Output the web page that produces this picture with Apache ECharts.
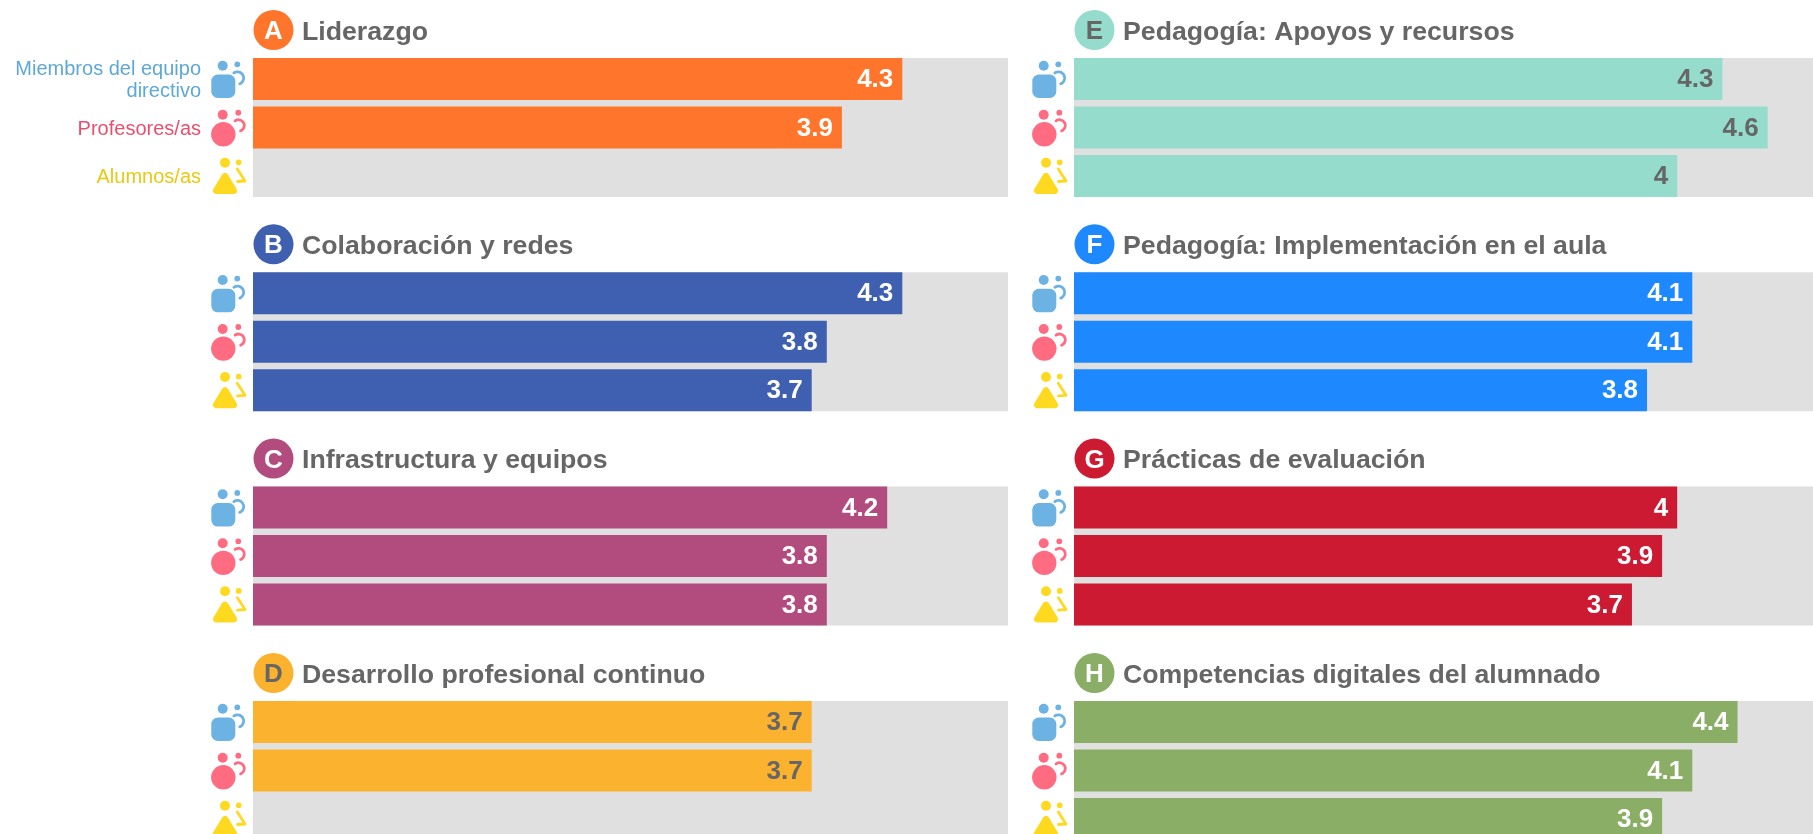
<!DOCTYPE html>
<html>
<head>
<meta charset="utf-8">
<style>
  html, body { margin: 0; padding: 0; background: #fff; overflow: hidden; }
  #chart { width: 1813px; height: 834px; }
</style>
</head>
<body>
<div id="chart"></div>
<script src="https://cdn.jsdelivr.net/npm/echarts@6/dist/echarts.min.js"></script>
<script>
const groups = ["Miembros del equipo\ndirectivo", "Profesores/as", "Alumnos/as"];
const letters = ["A", "B", "C", "D", "E", "F", "G", "H"];
const titles = [
  "Liderazgo",
  "Colaboración y redes",
  "Infrastructura y equipos",
  "Desarrollo profesional continuo",
  "Pedagogía: Apoyos y recursos",
  "Pedagogía: Implementación en el aula",
  "Prácticas de evaluación",
  "Competencias digitales del alumnado",
];
const colors = ["#ff752b", "#3f5fb0", "#b24c7e", "#fbb32f", "#95dccd", "#1e88ff", "#cb1a32", "#8bae66"];
const darkText = ["D", "E"]; // these two carry grey text instead of white

const valuesA = [4.3, 3.9, null];
const valuesB = [4.3, 3.8, 3.7];
const valuesC = [4.2, 3.8, 3.8];
const valuesD = [3.7, 3.7, null];
const valuesE = [4.3, 4.6, 4];
const valuesF = [4.1, 4.1, 3.8];
const valuesG = [4, 3.9, 3.7];
const valuesH = [4.4, 4.1, 3.9];
const allValues = [valuesA, valuesB, valuesC, valuesD, valuesE, valuesF, valuesG, valuesH];

const groupTextColors = ["#5ea8d8", "#e8506e", "#e8c913"];
const iconBlue = "#6cb3e3";
const iconPink = "#ff6b81";
const iconYellow = "#ffd91f";
const GREY = "#666666";
const FONT = "'Liberation Sans', Arial, sans-serif";

const colLeft = [253, 1074];
const colWidth = [755, 754];
const panelTop = [58, 272.3, 486.6, 701];
const trackH = 139;
const rowStep = 48.5; // bars 42 high, 6.5 apart

function icons(dx, dy) {
  // drawn at panel A's position, shifted by dx/dy
  const open = (color) => ({ stroke: color, fill: null, lineWidth: 2.8, lineCap: "round", lineJoin: "round" });
  const arcShape = (cx, cy, r) => ({ cx, cy, r, startAngle: -2.2, endAngle: 1.2, clockwise: true });
  return {
    type: "group",
    x: dx,
    y: dy,
    silent: true,
    children: [
      { type: "circle", shape: { cx: 222.7, cy: 65.7, r: 5 }, style: { fill: iconBlue } },
      { type: "rect", shape: { x: 211.3, y: 74.5, width: 24, height: 23.5, r: 6.5 }, style: { fill: iconBlue } },
      { type: "circle", shape: { cx: 237.3, cy: 64.3, r: 2.9 }, style: { fill: iconBlue } },
      { type: "arc", shape: arcShape(237.5, 78, 6.2), style: open(iconBlue) },

      { type: "circle", shape: { cx: 222.7, cy: 114.7, r: 5 }, style: { fill: iconPink } },
      { type: "circle", shape: { cx: 223.3, cy: 134.3, r: 12.2 }, style: { fill: iconPink } },
      { type: "circle", shape: { cx: 238.3, cy: 112.7, r: 2.9 }, style: { fill: iconPink } },
      { type: "arc", shape: arcShape(238.5, 125.5, 5.8), style: open(iconPink) },

      { type: "circle", shape: { cx: 225, cy: 162.7, r: 5 }, style: { fill: iconYellow } },
      { type: "polygon", shape: { points: [[225, 176.5], [216.5, 190.5], [233.5, 190.5]] },
        style: { fill: iconYellow, stroke: iconYellow, lineWidth: 7, lineJoin: "round" } },
      { type: "circle", shape: { cx: 238.7, cy: 162.3, r: 2.9 }, style: { fill: iconYellow } },
      { type: "polyline", shape: { points: [[237.3, 169], [245, 181], [237.5, 181.5]] }, style: open(iconYellow) },
    ],
  };
}

// rich tokens, because plain label padding does nothing when the text is middle aligned
const groupRich = {};
groupTextColors.forEach((color, idx) => {
  groupRich["g" + idx] = {
    color,
    fontFamily: FONT,
    fontSize: 20,
    lineHeight: 22,
    align: "right",
    padding: [3, 0, 0, 0],
  };
});

const grid = [], xAxis = [], yAxis = [], series = [], graphic = [];

allValues.forEach((values, i) => {
  const col = i < 4 ? 0 : 1;
  const row = i % 4;
  const left = colLeft[col];
  const top = panelTop[row];
  const textColor = darkText.includes(letters[i]) ? GREY : "#fff";

  grid.push({
    outerBoundsMode: "none", // right column and bottom row run past the canvas
    left,
    width: colWidth[col],
    top: top + trackH / 2 - (rowStep * 3) / 2,
    height: rowStep * 3,
  });
  xAxis.push({ gridIndex: i, type: "value", min: 0, max: 5, show: false });
  yAxis.push({
    gridIndex: i,
    type: "category",
    inverse: true,
    data: groups,
    show: i === 0, // only the first panel names the groups
    axisLine: { show: false },
    axisTick: { show: false },
    axisLabel: {
      margin: 52,
      align: "right",
      formatter: (v, idx) => v.split("\n").map((line) => `{g${idx}|${line}}`).join("\n"),
      rich: groupRich,
    },
  });
  series.push({
    type: "bar",
    xAxisIndex: i,
    yAxisIndex: i,
    data: values,
    barWidth: 42,
    itemStyle: { color: colors[i] },
    silent: true,
    label: {
      show: true,
      position: "insideRight",
      distance: 9,
      offset: [0, 1],
      color: textColor,
      fontFamily: FONT,
      fontWeight: "bold",
      fontSize: 26,
    },
  });

  graphic.push(
    { type: "circle", silent: true, shape: { cx: left + 20.5, cy: top - 28, r: 20 }, style: { fill: colors[i] } },
    { type: "text", silent: true, x: left + 20.5, y: top - 26,
      style: { text: letters[i], fill: textColor, font: `bold 26px ${FONT}`, align: "center", verticalAlign: "middle" } },
    { type: "text", silent: true, x: left + 49, y: top - 25.5,
      style: { text: titles[i], fill: GREY, font: `bold 26.7px ${FONT}`, align: "left", verticalAlign: "middle" } },
    icons(left - colLeft[0], top - panelTop[0])
  );
});

// the grey track is continuous behind the bars, so it gets its own grids
allValues.forEach((_, i) => {
  const col = i < 4 ? 0 : 1;
  grid.push({
    outerBoundsMode: "none",
    show: true,
    backgroundColor: "#e0e0e0",
    borderWidth: 0,
    left: colLeft[col],
    width: colWidth[col],
    top: panelTop[i % 4],
    height: trackH,
  });
});

const ch = echarts.init(document.getElementById("chart"));
ch.setOption({
  animation: false,
  backgroundColor: "#fff",
  grid,
  xAxis,
  yAxis,
  series,
  graphic,
});
</script>
</body>
</html>
